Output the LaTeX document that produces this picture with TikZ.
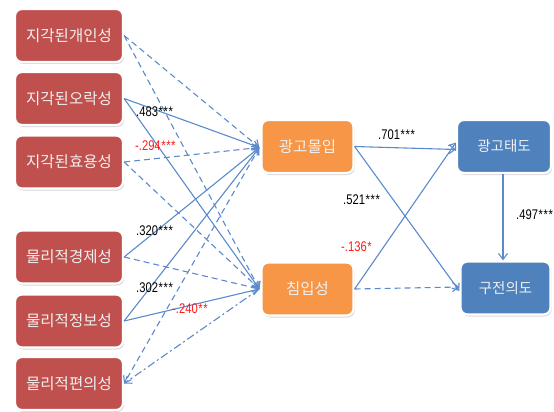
\documentclass[tikz,border=0pt]{standalone}
\usepackage{fontspec}
\setmainfont{Liberation Sans}
\newfontfamily\krfont{Noto Sans CJK KR}
\newfontfamily\numfont[FakeStretch=0.8]{Liberation Sans}
\usetikzlibrary{arrows.meta,shadows}

\definecolor{boxred}{HTML}{C0504D}
\definecolor{boxorange}{HTML}{F79646}
\definecolor{boxblue}{HTML}{4F81BD}
\definecolor{linkblue}{HTML}{5A8ACB}
\definecolor{coefred}{HTML}{FF1A1A}

% significance stars, slightly spaced apart
\newcommand{\sig}[1]{\foreach \k in {1,...,#1}{\kern0.6pt*}}

\begin{document}
\begin{tikzpicture}[x=1pt,y=-1pt,
  box/.style={rounded corners=7pt, draw=white, line width=2.2pt, text=white!94!black,
    font=\krfont\fontsize{15.5}{17}\selectfont, minimum height=53pt, inner sep=0pt,
    drop shadow={shadow xshift=1.2pt, shadow yshift=-2pt, opacity=0.3}},
  redbox/.style={box, fill=boxred, minimum width=108pt},
  orangebox/.style={box, fill=boxorange, minimum width=92pt},
  bluebox/.style={box, fill=boxblue, minimum width=94pt, font=\krfont\fontsize{14.5}{17}\selectfont},
  link/.style={draw=linkblue, line width=1.1pt, -{Straight Barb[length=6pt,width=9pt]}},
  dashlink/.style={link, dash pattern=on 6pt off 4pt},
  dotlink/.style={link, dash pattern=on 8pt off 3pt on 2pt off 3pt},
  coef/.style={font=\numfont\fontsize{14}{15}\selectfont, inner sep=0pt, anchor=west},
  negcoef/.style={coef, text=coefred},
]
\useasboundingbox (0,0) rectangle (554,412);

% exogenous perceptions (left column)
\node[redbox] (p1) at (69,35.5) {지각된개인성};
\node[redbox] (p2) at (69,98.5) {지각된오락성};
\node[redbox] (p3) at (69,162) {지각된효용성};
\node[redbox] (p4) at (69,257) {물리적경제성};
\node[redbox] (p5) at (69,321) {물리적정보성};
\node[redbox] (p6) at (69,383.5) {물리적편의성};

% mediators
\node[orangebox] (im) at (307.5,146.5) {광고몰입};
\node[orangebox] (in) at (307.5,289) {침입성};

% outcomes
\node[bluebox] (at) at (504,146.5) {광고태도};
\node[bluebox, minimum width=90pt] (wm) at (505.5,288) {구전의도};

% anchor points on the mediators
\coordinate (imL) at ([xshift=-1pt,yshift=-1pt]im.west);
\coordinate (inL) at ([xshift=-1pt]in.west);

% paths into 광고몰입
\draw[dashlink] (p1.east) -- (imL);
\draw[link]     (p2.east) -- (imL);
\draw[dashlink] (p3.east) -- (imL);
\draw[link]     (p4.east) -- (imL);
\draw[link]     (p5.east) -- (imL);
\draw[dashlink] (imL) -- (p6.east);

% paths into 침입성
\draw[dashlink] (p1.east) -- (inL);
\draw[link]     (p2.east) -- (inL);
\draw[dashlink] (p3.east) -- (inL);
\draw[dashlink] (p4.east) -- (inL);
\draw[link]     (p5.east) -- (inL);
\draw[dotlink]  (inL) -- (p6.east);

% mediators to outcomes
\draw[link] (im.east) -- ([yshift=-3pt]at.west);
\draw[link] (im.east) -- ([yshift=-3pt]wm.west);
\draw[link] (in.east) -- ([yshift=4pt]at.west);
\draw[dashlink] (in.east) -- ([yshift=1pt]wm.west);
\draw[link] ([xshift=-1pt]at.south) -- ([xshift=-2.5pt]wm.north);

% path coefficients
\node[coef]    (c1) at (136,112) {.483\sig{3}};
\node[negcoef] (c2) at (135,146) {-.294\sig{3}};
\node[coef]    (c3) at (136,231) {.320\sig{3}};
\node[coef]    (c4) at (136,288) {.302\sig{3}};
\node[negcoef] (c5) at (172,309) {-.240\sig{2}};
\node[coef]    (c6) at (378,135) {.701\sig{3}};
\node[coef]    (c7) at (343,200) {.521\sig{3}};
\node[negcoef] (c8) at (341,247) {-.136\sig{1}};
\node[coef]    (c9) at (516,215) {.497\sig{3}};
\end{tikzpicture}
\end{document}
